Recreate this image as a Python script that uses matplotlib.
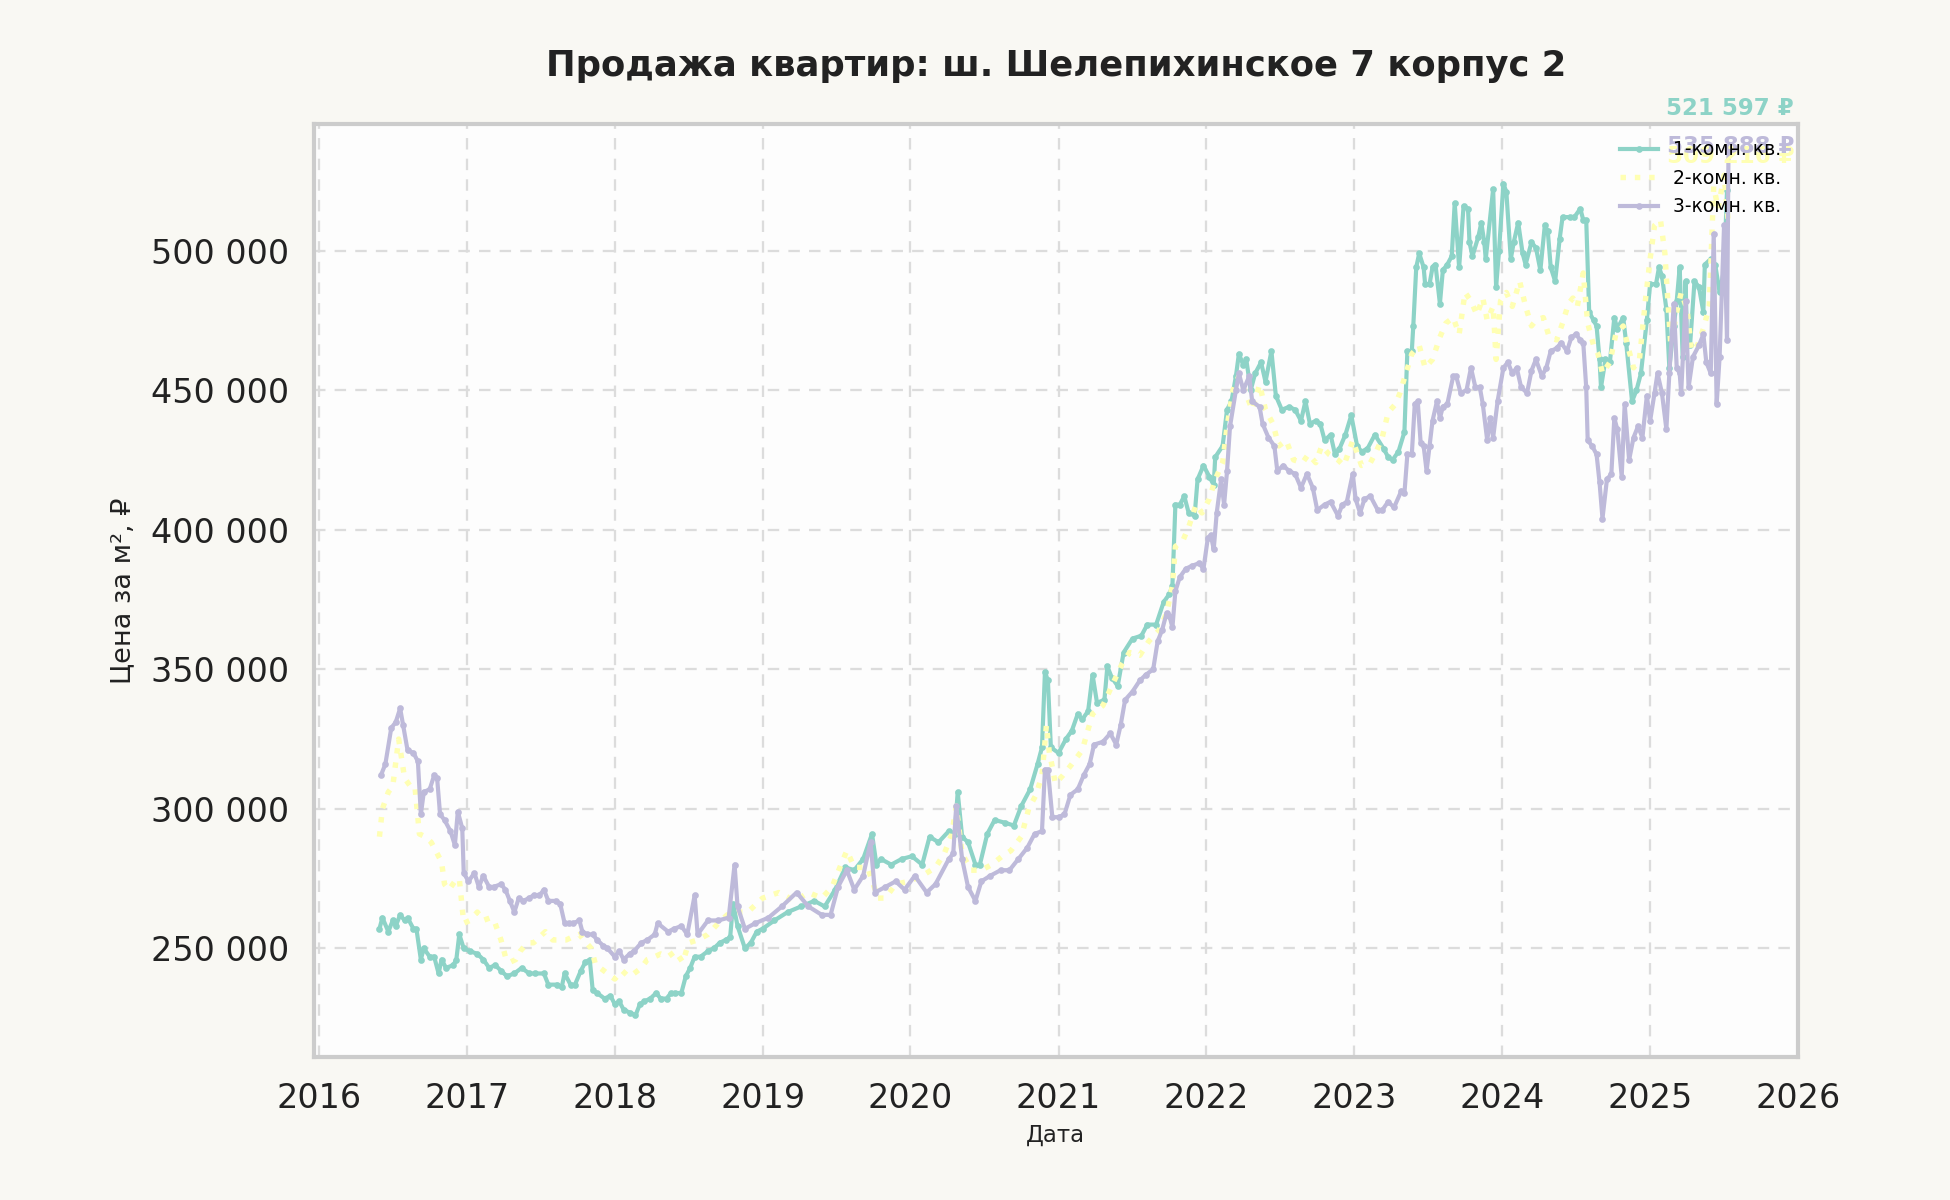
import numpy as np
import pandas as pd
import matplotlib
matplotlib.use("Agg")
import matplotlib.pyplot as plt
import matplotlib.dates as mdates
import matplotlib.ticker as mticker

# 1-комн. кв. : decimal year / price per m2 (thousand rub)
t1 = [2016.41, 2016.43, 2016.47, 2016.50, 2016.52, 2016.55, 2016.58, 2016.60, 2016.64, 2016.66,
      2016.69, 2016.71, 2016.75, 2016.78, 2016.81, 2016.83, 2016.86, 2016.91, 2016.93, 2016.95,
      2016.98, 2017.02, 2017.07, 2017.11, 2017.15, 2017.19, 2017.23, 2017.27, 2017.32, 2017.37,
      2017.42, 2017.46, 2017.52, 2017.55, 2017.61, 2017.64, 2017.66, 2017.70, 2017.73, 2017.77,
      2017.80, 2017.83, 2017.85, 2017.88, 2017.93, 2017.97, 2018.00, 2018.03, 2018.06, 2018.10,
      2018.14, 2018.17, 2018.20, 2018.24, 2018.28, 2018.31, 2018.35, 2018.38, 2018.41, 2018.45,
      2018.48, 2018.51, 2018.54, 2018.58, 2018.63, 2018.67, 2018.71, 2018.75, 2018.78, 2018.80,
      2018.83, 2018.88, 2018.92, 2018.96, 2019.00, 2019.08, 2019.17, 2019.26, 2019.35, 2019.42,
      2019.49, 2019.56, 2019.62, 2019.68, 2019.74, 2019.77, 2019.80, 2019.87, 2019.94, 2020.01,
      2020.08, 2020.13, 2020.19, 2020.26, 2020.30, 2020.32, 2020.35, 2020.39, 2020.44, 2020.47,
      2020.52, 2020.57, 2020.64, 2020.70, 2020.75, 2020.81, 2020.86, 2020.89, 2020.91, 2020.93,
      2020.95, 2021.00, 2021.05, 2021.09, 2021.13, 2021.16, 2021.20, 2021.23, 2021.26, 2021.31,
      2021.33, 2021.36, 2021.40, 2021.44, 2021.50, 2021.56, 2021.60, 2021.66, 2021.71, 2021.75,
      2021.77, 2021.79, 2021.82, 2021.85, 2021.88, 2021.92, 2021.94, 2021.98, 2022.02, 2022.05,
      2022.06, 2022.11, 2022.14, 2022.17, 2022.20, 2022.22, 2022.25, 2022.27, 2022.30, 2022.33,
      2022.37, 2022.40, 2022.44, 2022.47, 2022.51, 2022.56, 2022.60, 2022.64, 2022.67, 2022.70,
      2022.74, 2022.77, 2022.80, 2022.84, 2022.87, 2022.90, 2022.94, 2022.98, 2023.02, 2023.05,
      2023.09, 2023.14, 2023.20, 2023.23, 2023.26, 2023.30, 2023.34, 2023.36, 2023.39, 2023.40,
      2023.42, 2023.44, 2023.47, 2023.48, 2023.51, 2023.53, 2023.55, 2023.58, 2023.60, 2023.63,
      2023.66, 2023.68, 2023.71, 2023.74, 2023.77, 2023.78, 2023.80, 2023.84, 2023.86, 2023.88,
      2023.89, 2023.94, 2023.96, 2023.98, 2024.01, 2024.03, 2024.06, 2024.08, 2024.11, 2024.14,
      2024.16, 2024.20, 2024.23, 2024.26, 2024.29, 2024.31, 2024.33, 2024.36, 2024.39, 2024.41,
      2024.46, 2024.49, 2024.53, 2024.55, 2024.57, 2024.59, 2024.62, 2024.64, 2024.66, 2024.67,
      2024.70, 2024.73, 2024.76, 2024.78, 2024.82, 2024.84, 2024.88, 2024.91, 2024.94, 2024.98,
      2025.00, 2025.04, 2025.06, 2025.08, 2025.11, 2025.13, 2025.16, 2025.18, 2025.20, 2025.22,
      2025.24, 2025.25, 2025.27, 2025.30, 2025.33, 2025.36, 2025.37, 2025.41, 2025.44, 2025.47,
      2025.50, 2025.52]
v1 = [257, 261, 256, 260, 258, 262, 260, 261, 257, 257,
      246, 250, 247, 247, 241, 246, 243, 244, 246, 255,
      250, 249, 248, 246, 243, 244, 242, 240, 241, 243,
      241, 241, 241, 237, 237, 236, 241, 237, 237, 242,
      245, 246, 235, 234, 232, 233, 230, 231, 228, 227,
      226, 230, 231, 232, 234, 232, 232, 234, 234, 234,
      240, 243, 247, 247, 249, 250, 252, 253, 254, 266,
      258, 250, 252, 256, 257, 260, 263, 265, 267, 265,
      271, 279, 278, 282, 291, 280, 282, 280, 282, 283,
      280, 290, 288, 292, 291, 306, 290, 288, 280, 280,
      291, 296, 295, 294, 301, 307, 316, 322, 349, 346,
      322, 320, 325, 328, 334, 332, 335, 348, 338, 339,
      351, 347, 344, 356, 361, 362, 366, 366, 374, 377,
      380, 409, 409, 412, 406, 405, 418, 423, 419, 416,
      426, 430, 443, 446, 455, 463, 459, 461, 450, 456,
      460, 453, 464, 448, 443, 444, 443, 439, 446, 438,
      439, 438, 432, 434, 427, 429, 434, 441, 430, 428,
      429, 434, 429, 426, 425, 428, 435, 464, 464, 473,
      494, 499, 494, 488, 488, 494, 495, 481, 493, 495,
      498, 517, 494, 516, 515, 503, 498, 505, 510, 503,
      497, 522, 487, 500, 524, 521, 497, 503, 510, 499,
      495, 503, 501, 493, 509, 507, 494, 489, 504, 512,
      512, 512, 515, 511, 511, 478, 475, 473, 461, 451,
      461, 460, 476, 472, 476, 467, 446, 450, 456, 475,
      488, 488, 494, 491, 479, 458, 473, 482, 494, 462,
      489, 466, 466, 489, 487, 478, 495, 497, 495, 485,
      493, 521.597]

# 2-комн. кв.
t2 = [2016.41, 2016.43, 2016.47, 2016.50, 2016.54, 2016.56, 2016.58, 2016.62, 2016.65, 2016.68,
      2016.72, 2016.76, 2016.79, 2016.83, 2016.85, 2016.88, 2016.92, 2016.95, 2016.98, 2017.02,
      2017.07, 2017.11, 2017.16, 2017.19, 2017.23, 2017.26, 2017.29, 2017.33, 2017.36, 2017.41,
      2017.45, 2017.49, 2017.53, 2017.58, 2017.62, 2017.67, 2017.71, 2017.76, 2017.79, 2017.84,
      2017.87, 2017.90, 2017.95, 2018.00, 2018.05, 2018.09, 2018.13, 2018.18, 2018.22, 2018.27,
      2018.31, 2018.36, 2018.41, 2018.46, 2018.50, 2018.56, 2018.63, 2018.70, 2018.76, 2018.83,
      2018.90, 2019.00, 2019.11, 2019.22, 2019.31, 2019.40, 2019.47, 2019.53, 2019.57, 2019.62,
      2019.71, 2019.78, 2019.83, 2019.90, 2019.99, 2020.08, 2020.17, 2020.23, 2020.28, 2020.31,
      2020.35, 2020.41, 2020.48, 2020.55, 2020.62, 2020.68, 2020.75, 2020.80, 2020.85, 2020.89,
      2020.92, 2020.94, 2020.96, 2020.98, 2021.03, 2021.09, 2021.16, 2021.23, 2021.30, 2021.36,
      2021.43, 2021.48, 2021.55, 2021.61, 2021.68, 2021.73, 2021.77, 2021.79, 2021.84, 2021.88,
      2021.93, 2021.97, 2022.02, 2022.06, 2022.11, 2022.14, 2022.18, 2022.22, 2022.25, 2022.31,
      2022.36, 2022.40, 2022.45, 2022.49, 2022.54, 2022.59, 2022.65, 2022.69, 2022.74, 2022.78,
      2022.83, 2022.89, 2022.93, 2022.99, 2023.05, 2023.11, 2023.15, 2023.19, 2023.23, 2023.28,
      2023.31, 2023.35, 2023.39, 2023.44, 2023.48, 2023.53, 2023.58, 2023.62, 2023.67, 2023.71,
      2023.75, 2023.79, 2023.83, 2023.87, 2023.90, 2023.94, 2023.96, 2023.99, 2024.03, 2024.07,
      2024.12, 2024.16, 2024.20, 2024.23, 2024.28, 2024.32, 2024.37, 2024.41, 2024.45, 2024.48,
      2024.51, 2024.55, 2024.58, 2024.62, 2024.65, 2024.68, 2024.73, 2024.77, 2024.82, 2024.85,
      2024.89, 2024.93, 2024.97, 2025.00, 2025.03, 2025.07, 2025.10, 2025.12, 2025.14, 2025.18,
      2025.21, 2025.25, 2025.28, 2025.32, 2025.36, 2025.40, 2025.43, 2025.46, 2025.50, 2025.53]
v2 = [290, 300, 306, 308, 325, 318, 311, 308, 308, 291,
      290, 288, 285, 281, 273, 271, 274, 275, 259, 260,
      263, 260, 261, 259, 253, 247, 245, 246, 249, 252,
      252, 254, 256, 253, 253, 253, 254, 255, 253, 250,
      244, 243, 241, 239, 242, 240, 241, 243, 246, 247,
      248, 247, 249, 245, 252, 253, 255, 259, 262, 263,
      263, 268, 270, 267, 270, 268, 272, 280, 285, 279,
      279, 268, 268, 273, 274, 276, 279, 284, 291, 301,
      284, 278, 278, 280, 283, 285, 290, 300, 305, 312,
      330, 320, 315, 309, 312, 316, 321, 334, 337, 344,
      352, 356, 355, 360, 364, 370, 380, 394, 396, 401,
      409, 406, 411, 418, 424, 437, 450, 455, 451, 443,
      452, 443, 438, 430, 432, 425, 424, 427, 424, 430,
      427, 425, 423, 432, 423, 424, 428, 433, 442, 445,
      449, 456, 463, 466, 458, 461, 469, 474, 476, 470,
      485, 482, 477, 483, 475, 480, 461, 482, 485, 480,
      489, 480, 473, 475, 476, 469, 468, 474, 481, 483,
      480, 492, 474, 466, 463, 456, 460, 470, 473, 466,
      458, 461, 482, 497, 509, 511, 499, 482, 466, 478,
      485, 479, 464, 466, 472, 480, 523, 515, 527, 509.216]

# 3-комн. кв.
t3 = [2016.42, 2016.45, 2016.49, 2016.52, 2016.55, 2016.57, 2016.60, 2016.64, 2016.67, 2016.69,
      2016.71, 2016.75, 2016.78, 2016.80, 2016.82, 2016.85, 2016.89, 2016.92, 2016.94, 2016.97,
      2016.98, 2017.01, 2017.05, 2017.08, 2017.11, 2017.15, 2017.18, 2017.23, 2017.26, 2017.29,
      2017.32, 2017.35, 2017.38, 2017.42, 2017.45, 2017.49, 2017.52, 2017.55, 2017.60, 2017.63,
      2017.66, 2017.69, 2017.72, 2017.76, 2017.78, 2017.81, 2017.85, 2017.88, 2017.92, 2017.95,
      2018.00, 2018.03, 2018.06, 2018.10, 2018.13, 2018.18, 2018.22, 2018.27, 2018.29, 2018.36,
      2018.40, 2018.45, 2018.49, 2018.54, 2018.56, 2018.63, 2018.70, 2018.77, 2018.81, 2018.83,
      2018.88, 2018.95, 2019.04, 2019.13, 2019.23, 2019.31, 2019.40, 2019.46, 2019.51, 2019.57,
      2019.62, 2019.68, 2019.73, 2019.76, 2019.83, 2019.90, 2019.96, 2020.03, 2020.11, 2020.17,
      2020.26, 2020.29, 2020.31, 2020.35, 2020.39, 2020.44, 2020.48, 2020.54, 2020.61, 2020.67,
      2020.73, 2020.79, 2020.84, 2020.89, 2020.91, 2020.93, 2020.96, 2021.00, 2021.04, 2021.08,
      2021.13, 2021.17, 2021.21, 2021.24, 2021.30, 2021.35, 2021.39, 2021.42, 2021.45, 2021.50,
      2021.55, 2021.59, 2021.64, 2021.67, 2021.70, 2021.73, 2021.75, 2021.77, 2021.79, 2021.82,
      2021.86, 2021.90, 2021.95, 2021.98, 2022.01, 2022.03, 2022.05, 2022.07, 2022.10, 2022.12,
      2022.14, 2022.16, 2022.20, 2022.22, 2022.25, 2022.29, 2022.31, 2022.36, 2022.38, 2022.42,
      2022.46, 2022.48, 2022.52, 2022.56, 2022.60, 2022.64, 2022.68, 2022.72, 2022.75, 2022.80,
      2022.84, 2022.89, 2022.92, 2022.95, 2022.99, 2023.01, 2023.04, 2023.07, 2023.11, 2023.16,
      2023.19, 2023.23, 2023.27, 2023.32, 2023.34, 2023.36, 2023.39, 2023.41, 2023.43, 2023.45,
      2023.47, 2023.49, 2023.51, 2023.53, 2023.56, 2023.58, 2023.60, 2023.63, 2023.67, 2023.69,
      2023.72, 2023.76, 2023.79, 2023.82, 2023.85, 2023.87, 2023.90, 2023.92, 2023.94, 2023.97,
      2024.01, 2024.04, 2024.07, 2024.10, 2024.13, 2024.17, 2024.20, 2024.23, 2024.27, 2024.30,
      2024.33, 2024.37, 2024.40, 2024.44, 2024.47, 2024.50, 2024.53, 2024.55, 2024.57, 2024.58,
      2024.61, 2024.64, 2024.66, 2024.68, 2024.71, 2024.74, 2024.76, 2024.78, 2024.81, 2024.83,
      2024.86, 2024.89, 2024.92, 2024.95, 2024.98, 2025.00, 2025.03, 2025.05, 2025.08, 2025.11,
      2025.13, 2025.16, 2025.18, 2025.20, 2025.21, 2025.24, 2025.26, 2025.29, 2025.33, 2025.36,
      2025.38, 2025.41, 2025.43, 2025.45, 2025.47, 2025.50, 2025.52, 2025.53]
v3 = [312, 316, 329, 331, 336, 330, 321, 320, 317, 298,
      306, 307, 312, 311, 298, 296, 292, 287, 299, 293,
      277, 274, 277, 272, 276, 272, 272, 273, 271, 267,
      263, 268, 267, 268, 269, 269, 271, 267, 267, 266,
      259, 259, 259, 260, 256, 255, 255, 253, 251, 250,
      247, 249, 246, 248, 249, 252, 253, 255, 259, 256,
      257, 258, 255, 269, 255, 260, 260, 261, 280, 265,
      257, 259, 261, 265, 270, 265, 262, 262, 272, 278,
      271, 276, 288, 270, 272, 274, 271, 276, 270, 273,
      282, 284, 301, 282, 272, 267, 274, 276, 278, 278,
      282, 286, 291, 292, 314, 314, 297, 297, 298, 305,
      307, 312, 316, 323, 324, 327, 323, 330, 339, 342,
      346, 348, 350, 360, 364, 370, 369, 365, 378, 383,
      386, 387, 388, 386, 397, 398, 393, 406, 418, 409,
      421, 437, 450, 456, 450, 455, 446, 444, 438, 433,
      430, 421, 423, 421, 420, 415, 420, 415, 407, 409,
      410, 405, 409, 410, 420, 411, 406, 411, 412, 407,
      407, 410, 408, 414, 413, 427, 427, 445, 446, 431,
      430, 421, 430, 439, 446, 440, 444, 445, 455, 455,
      449, 450, 458, 451, 451, 445, 432, 440, 433, 446,
      458, 460, 456, 458, 451, 449, 457, 461, 455, 458,
      464, 465, 467, 464, 469, 470, 468, 467, 451, 432,
      430, 427, 417, 404, 418, 420, 440, 436, 419, 445,
      425, 433, 437, 433, 448, 439, 449, 456, 449, 436,
      456, 481, 458, 456, 449, 482, 451, 462, 466, 470,
      460, 456, 506, 445, 462, 509, 468, 535.888]

series_names = ["1-комн. кв.", "2-комн. кв.", "3-комн. кв."]
series_colors = ["#8dd3c7", "#ffffb3", "#bebada"]
last_labels = ["521 597 ₽", "509 216 ₽", "535 888 ₽"]


def to_dates(years):
    years = np.asarray(years)
    whole = np.floor(years)
    base = pd.to_datetime(whole.astype(int).astype(str) + "-01-01")
    return base + pd.to_timedelta((years - whole) * 365.25, unit="D")


plt.rcParams["font.family"] = ["DejaVu Sans"]
fig = plt.figure(figsize=(13, 8), dpi=150, facecolor="#f9f8f3")
ax = fig.add_axes([0.161, 0.119, 0.761, 0.778])
ax.set_facecolor("#fdfdfd")

styles = [dict(ls="-", marker="o", ms=2.2, lw=2.0),
          dict(ls=":", marker=None, lw=2.6),
          dict(ls="-", marker="o", ms=2.2, lw=2.0)]
for tt, vv, name, col, st in zip([t1, t2, t3], [v1, v2, v3], series_names, series_colors, styles):
    ax.plot(to_dates(tt), np.array(vv) * 1000, color=col, label=name, **st)

ax.set_xlim(pd.Timestamp("2015-12-20"), pd.Timestamp("2026-01-01"))
ax.set_ylim(211000, 545500)
ax.xaxis.set_major_locator(mdates.YearLocator())
ax.xaxis.set_major_formatter(mdates.DateFormatter("%Y"))
ax.yaxis.set_major_locator(mticker.MultipleLocator(50000))
ax.yaxis.set_major_formatter(mticker.FuncFormatter(lambda v, p: f"{int(v):,}".replace(",", " ")))

ax.grid(True, ls=(0, (5, 4)), color="#dcdcdc", lw=1.1)
for s in ax.spines.values():
    s.set_color("#cccccc")
    s.set_linewidth(2)
ax.tick_params(axis="both", labelsize=16, length=0, pad=12, colors="#222222")

ax.set_title("Продажа квартир: ш. Шелепихинское 7 корпус 2", fontsize=17, fontweight="bold",
             color="#222222", pad=23)
ax.set_xlabel("Дата", fontsize=11, color="#222222", labelpad=4)
ax.set_ylabel("Цена за м², ₽", fontsize=13, color="#222222", labelpad=7)

# last-value labels at the top right (they crowd the legend, as in the source chart)
for lbl, col, yf in zip(last_labels, series_colors, [1.016, 0.965, 0.976]):
    ax.text(0.9975, yf, lbl, transform=ax.transAxes, ha="right", va="center",
            fontsize=11, fontweight="bold", color=col)

ax.legend(loc="upper right", fontsize=9, frameon=False)

fig.savefig("out.png", dpi=150, facecolor=fig.get_facecolor())
